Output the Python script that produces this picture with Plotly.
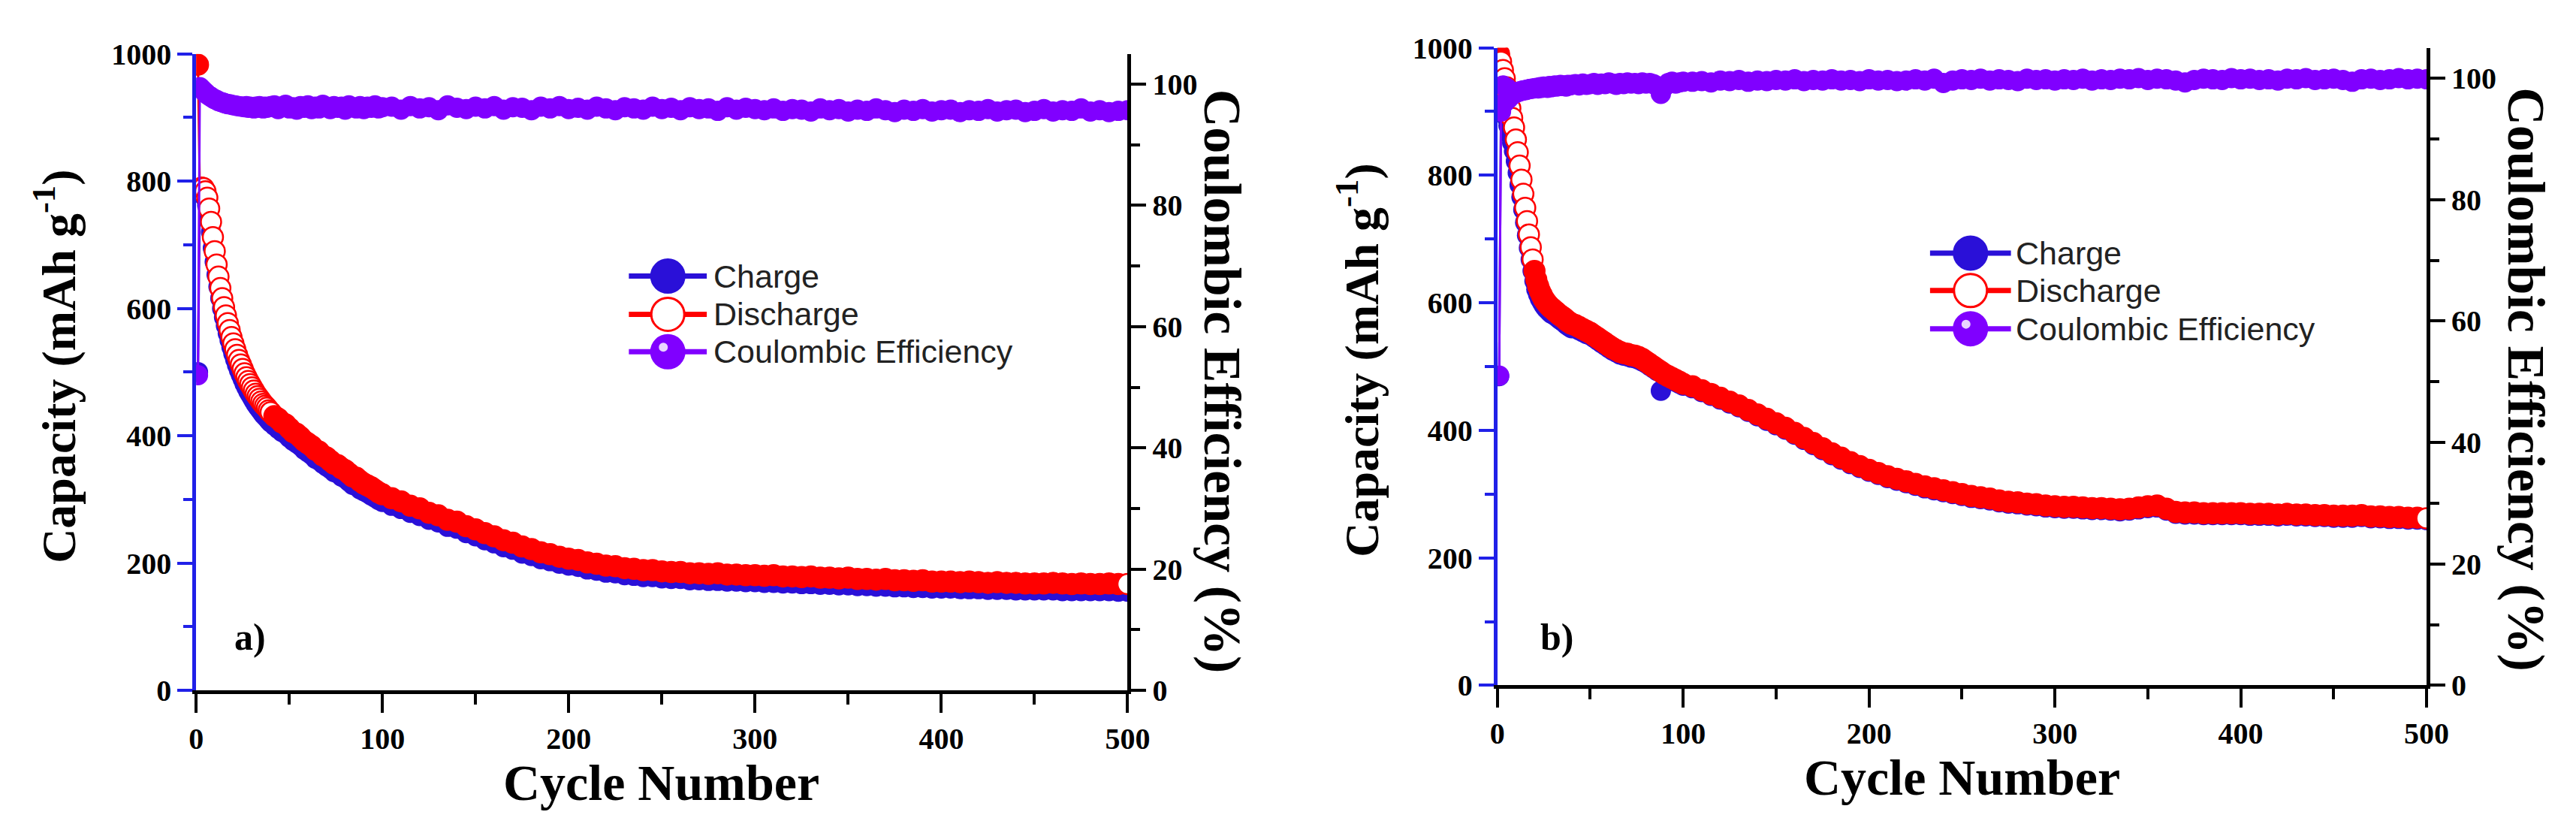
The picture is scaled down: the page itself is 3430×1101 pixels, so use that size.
import plotly.graph_objects as go

W, H = 3430, 1101

# cycle numbers used in both cells (dense at the start where the capacity falls fast)
cycles = list(range(1, 41)) + list(range(42, 101, 2)) + list(range(105, 501, 5))

# ---- a) capacity (mAh/g) and coulombic efficiency (%) ----
dis_a = [983, 786, 790, 789, 784, 774, 757, 736, 712, 690,
         669, 650, 632, 616, 602, 589, 577, 566, 555, 545,
         536, 527, 519, 512, 505, 498, 492, 486, 481, 476,
         471, 466, 462, 458, 454, 450, 447, 444, 440, 437,
         431, 427, 421, 418, 412, 406, 403, 398, 392, 388,
         384, 378, 375, 369, 366, 361, 356, 354, 349, 346,
         341, 336, 334, 329, 325, 322, 319, 315, 311, 308,
         302, 297, 290, 286, 279, 275, 268, 265, 258, 253,
         247, 242, 236, 232, 226, 222, 217, 214, 210, 207,
         205, 201, 199, 196, 195, 192, 191, 189, 189, 187,
         186, 186, 184, 184, 183, 184, 182, 182, 181, 181,
         180, 181, 179, 179, 178, 179, 177, 177, 176, 177,
         175, 175, 174, 175, 173, 173, 172, 173, 171, 171,
         171, 170, 171, 170, 169, 170, 169, 169, 168, 168,
         168, 169, 168, 167, 168, 167, 167, 168, 167, 167]
chg_a = [500, 781, 784, 781, 774, 762, 743, 720, 695, 673,
         653, 634, 616, 600, 586, 573, 561, 550, 539, 529,
         520, 511, 503, 496, 489, 482, 476, 470, 465, 460,
         455, 450, 446, 442, 438, 434, 431, 428, 424, 421,
         416, 411, 406, 403, 397, 392, 388, 384, 378, 374,
         370, 364, 361, 356, 352, 348, 343, 341, 336, 333,
         328, 323, 321, 316, 313, 310, 306, 303, 299, 296,
         290, 285, 279, 274, 268, 264, 257, 254, 247, 242,
         236, 231, 225, 221, 215, 211, 206, 203, 199, 196,
         194, 190, 188, 185, 184, 181, 180, 178, 178, 176,
         175, 175, 173, 173, 172, 172, 171, 171, 170, 170,
         169, 169, 168, 168, 167, 167, 166, 166, 165, 165,
         164, 164, 163, 163, 162, 162, 161, 161, 160, 160,
         160, 159, 159, 159, 158, 158, 158, 157, 157, 157,
         157, 157, 156, 156, 156, 156, 156, 156, 155, 155]
ce_a = [52.0, 99.5, 99.2, 98.9, 98.6, 98.3, 98.1, 97.9, 97.7, 97.5,
        97.4, 97.2, 97.1, 97.0, 96.9, 96.8, 96.7, 96.7, 96.6, 96.5,
        96.5, 96.4, 96.4, 96.3, 96.3, 96.2, 96.4, 96.1, 96.3, 96.2,
        96.0, 96.3, 96.1, 96.4, 96.2, 96.0, 96.3, 96.1, 96.2, 96.4,
        96.5, 95.9, 96.3, 96.6, 96.0, 96.2, 95.8, 96.4, 96.1, 96.5,
        95.9, 96.3, 96.0, 96.6, 96.2, 95.9, 96.4, 96.1, 96.3, 95.8,
        96.5, 96.2, 96.0, 96.4, 95.9, 96.3, 96.1, 96.5, 96.0, 96.2,
        96.3, 95.8, 96.4, 96.0, 96.2, 95.7, 96.5, 96.1, 95.9, 96.3,
        96.0, 96.4, 95.8, 96.2, 96.1, 95.7, 96.3, 96.0, 96.4, 95.9,
        96.1, 95.8, 96.3, 96.0, 95.7, 96.2, 96.0, 95.8, 96.3, 95.9,
        96.1, 95.7, 96.2, 95.9, 96.0, 95.6, 96.2, 95.8, 96.1, 95.9,
        95.7, 96.0, 95.6, 95.9, 95.8, 95.5, 96.0, 95.7, 95.9, 95.5,
        95.8, 95.6, 96.0, 95.7, 95.4, 95.8, 95.6, 95.9, 95.5, 95.7,
        95.8, 95.4, 95.7, 95.6, 95.9, 95.5, 95.7, 95.8, 95.4, 95.6,
        95.9, 95.5, 95.7, 95.6, 96.0, 95.5, 95.7, 95.4, 95.6, 95.7]

# ---- b) ----
dis_b = [990, 978, 965, 952, 938, 922, 905, 890, 875, 856,
         836, 815, 793, 771, 749, 728, 707, 687, 668, 650,
         636, 626, 618, 612, 606, 602, 598, 595, 592, 590,
         587, 585, 582, 580, 578, 576, 573, 571, 569, 567,
         565, 562, 559, 556, 553, 549, 545, 541, 537, 533,
         529, 526, 523, 521, 520, 518, 517, 515, 512, 508,
         504, 500, 496, 492, 488, 485, 482, 479, 476, 473,
         469, 463, 457, 451, 445, 439, 432, 425, 418, 411,
         404, 396, 388, 380, 372, 364, 357, 350, 344, 338,
         333, 328, 324, 320, 316, 312, 309, 306, 303, 300,
         297, 295, 293, 290, 288, 287, 285, 284, 282, 281,
         280, 280, 279, 278, 278, 277, 276, 277, 279, 281,
         282, 277, 272, 271, 271, 270, 270, 270, 270, 270,
         269, 269, 269, 268, 269, 268, 268, 267, 267, 266,
         266, 266, 267, 265, 265, 264, 264, 263, 263, 262]
chg_b = [485, 910, 905, 899, 891, 878, 863, 851, 838, 822,
         804, 785, 766, 746, 726, 706, 686, 668, 650, 634,
         621, 613, 606, 601, 596, 592, 589, 586, 583, 582,
         580, 578, 575, 573, 571, 569, 566, 564, 562, 560,
         560, 557, 554, 551, 549, 545, 541, 537, 533, 529,
         525, 522, 519, 517, 516, 514, 513, 511, 508, 505,
         501, 497, 493, 462, 484, 482, 479, 476, 473, 470,
         466, 460, 454, 448, 442, 436, 429, 422, 415, 408,
         401, 393, 385, 377, 369, 361, 354, 347, 341, 335,
         330, 325, 321, 317, 313, 309, 306, 303, 300, 297,
         294, 292, 290, 287, 285, 284, 282, 281, 279, 278,
         277, 277, 276, 275, 275, 274, 273, 274, 276, 278,
         279, 274, 269, 268, 268, 267, 267, 267, 267, 267,
         266, 266, 266, 265, 266, 265, 265, 264, 264, 263,
         263, 263, 264, 262, 262, 261, 261, 260, 260, 259]
ce_b = [51.0, 94.5, 98.8, 96.0, 98.4, 96.6, 97.9, 97.2, 97.5, 97.6,
        97.7, 97.8, 97.9, 98.0, 98.0, 98.1, 98.2, 98.2, 98.3, 98.3,
        98.4, 98.3, 98.5, 98.4, 98.6, 98.5, 98.4, 98.7, 98.5, 98.6,
        98.8, 98.6, 98.7, 98.9, 98.7, 98.8, 98.6, 98.9, 98.8, 98.9,
        99.0, 98.8, 99.1, 98.9, 99.0, 99.2, 98.9, 99.1, 99.0, 99.3,
        99.1, 98.9, 99.2, 99.0, 99.3, 99.1, 99.2, 99.0, 99.3, 99.1,
        99.2, 99.0, 98.7, 97.4, 98.6, 99.2, 99.4, 99.1, 99.3, 99.4,
        99.4, 99.5, 99.3, 99.6, 99.5, 99.7, 99.4, 99.6, 99.5, 99.7,
        99.6, 99.8, 99.5, 99.7, 99.6, 99.8, 99.6, 99.7, 99.5, 99.8,
        99.6, 99.7, 99.5, 99.6, 99.8, 99.6, 99.9, 99.2, 99.6, 99.8,
        99.7, 99.9, 99.6, 99.8, 99.7, 99.5, 99.9, 99.7, 99.8, 99.6,
        99.8, 99.7, 99.9, 99.6, 99.8, 99.7, 99.9, 99.8, 100.0, 99.7,
        99.9, 99.8, 99.6, 99.3, 99.7, 99.9, 99.8, 99.7, 100.0, 99.8,
        99.9, 99.7, 99.8, 99.6, 99.9, 99.8, 100.0, 99.7, 99.8, 99.9,
        99.7, 99.4, 99.8, 99.9, 99.7, 99.8, 100.0, 99.8, 99.9, 99.8]

legend_names = ["Charge", "Discharge", "Coulombic Efficiency"]

BLUE = "#2a10d8"
AXBLUE = "#2020e8"
RED = "#ff0000"
PURPLE = "#8000ff"
SERIF = "Liberation Serif"
SANS = "Liberation Sans"
MS = 27


def px(x):
    return x / W


def py(y):
    return 1 - y / H


fig = go.Figure()


def add_cell(xa, ya, ya2, dis, chg, ce, white_until):
    fig.add_trace(go.Scatter(x=cycles, y=chg, mode="lines+markers", xaxis=xa, yaxis=ya,
                             line=dict(color=BLUE, width=3),
                             marker=dict(size=MS, color=BLUE, line=dict(width=0))))
    # open symbols where the rings are still apart, solid band afterwards
    fills = ["white" if (1 < c <= white_until or c == cycles[-1]) else RED for c in cycles]
    fig.add_trace(go.Scatter(x=cycles, y=dis, mode="lines+markers", xaxis=xa, yaxis=ya,
                             line=dict(color=RED, width=3),
                             marker=dict(size=MS, color=fills, line=dict(color=RED, width=2.5))))
    fig.add_trace(go.Scatter(x=cycles, y=ce, mode="lines+markers", xaxis=xa, yaxis=ya2,
                             line=dict(color=PURPLE, width=3),
                             marker=dict(size=MS, color=PURPLE, line=dict(width=0))))


add_cell("x", "y", "y2", dis_a, chg_a, ce_a, 40)
add_cell("x2", "y3", "y4", dis_b, chg_b, ce_b, 19)

tickfont = dict(family=SERIF, size=40, color="black", weight="bold")


def xbottom(dom, anchor):
    return dict(domain=dom, anchor=anchor, range=[0, 500], tick0=0, dtick=100,
                ticks="outside", ticklen=25, tickwidth=4, tickcolor="black",
                showline=True, linewidth=5, linecolor="black",
                showgrid=False, zeroline=False, tickfont=tickfont,
                minor=dict(dtick=50, ticks="outside", ticklen=14, tickwidth=4,
                           tickcolor="black", showgrid=False))


def xtop(over, anchor):
    return dict(overlaying=over, anchor=anchor, side="top", range=[0, 500], tick0=0, dtick=100,
                ticks="inside", ticklen=22, tickwidth=4, tickcolor="black",
                showticklabels=False, showline=True, linewidth=5, linecolor="black",
                showgrid=False, zeroline=False,
                minor=dict(dtick=50, ticks="inside", ticklen=13, tickwidth=4,
                           tickcolor="black", showgrid=False))


def yleft(dom, anchor):
    return dict(domain=dom, anchor=anchor, range=[0, 1000], tick0=0, dtick=200,
                ticks="outside", ticklen=20, tickwidth=4, tickcolor=AXBLUE,
                showline=True, linewidth=5, linecolor=AXBLUE,
                showgrid=False, zeroline=False, tickfont=tickfont,
                minor=dict(dtick=100, ticks="outside", ticklen=12, tickwidth=4,
                           tickcolor=AXBLUE, showgrid=False))


def yright(over, anchor):
    return dict(overlaying=over, anchor=anchor, side="right", range=[0, 105], tick0=0, dtick=20,
                ticks="outside", ticklen=20, tickwidth=4, tickcolor="black",
                showline=True, linewidth=5, linecolor="black",
                showgrid=False, zeroline=False, tickfont=tickfont,
                minor=dict(dtick=10, ticks="outside", ticklen=12, tickwidth=4,
                           tickcolor="black", showgrid=False))


dom_xa = [px(246), px(1501)]
dom_ya = [py(927), py(43.5)]
dom_xb = [px(1999), px(3251)]
dom_yb = [py(920), py(35)]

annotations = []
shapes = []


def title(text, x, y, angle, size):
    annotations.append(dict(text=text, x=px(x), y=py(y), xref="paper", yref="paper",
                            showarrow=False, textangle=angle, xanchor="center", yanchor="middle",
                            font=dict(family=SERIF, size=size, color="black", weight="bold")))


for lx, rx, cx, cap_y, ce_y, num_y, tag, tag_x in [
        (56, 1628, 873, 477, 498, 1055, "a)", 319),
        (1812, 3385, 2625, 469, 495, 1048, "b)", 2079)]:
    title("Capacity (mAh g<sup>-1</sup>)", lx, cap_y, -90, 64)
    title("Coulombic Efficiency (%)", rx, ce_y, 90, 70)
    title("Cycle Number", cx, num_y, 0, 68)
    title(tag, tag_x, 853, 0, 50)


def legend(x0, x1, xt, rows):
    xm = (x0 + x1) / 2
    styles = [(BLUE, BLUE, BLUE), (RED, "white", RED), (PURPLE, PURPLE, PURPLE)]
    for name, yrow, (lc, fc, oc) in zip(legend_names, rows, styles):
        shapes.append(dict(type="line", xref="paper", yref="paper", x0=px(x0), x1=px(x1),
                           y0=py(yrow), y1=py(yrow), line=dict(color=lc, width=7)))
        shapes.append(dict(type="circle", xref="paper", yref="paper", xsizemode="pixel",
                           ysizemode="pixel", xanchor=px(xm), yanchor=py(yrow),
                           x0=-22, x1=22, y0=-22, y1=22, fillcolor=fc,
                           line=dict(color=oc, width=3)))
        annotations.append(dict(text=name, x=px(xt), y=py(yrow), xref="paper", yref="paper",
                                showarrow=False, xanchor="left", yanchor="middle",
                                font=dict(family=SANS, size=43, color="#222222")))
    # highlight on the sphere symbol
    shapes.append(dict(type="circle", xref="paper", yref="paper", xsizemode="pixel",
                       ysizemode="pixel", xanchor=px(xm), yanchor=py(rows[2]),
                       x0=-12, x1=0, y0=0, y1=12, fillcolor="#e9d4ff", line=dict(width=0)))


legend(829, 934, 941, [352, 405, 457])
legend(2582, 2691, 2695, [320, 372, 425])

fig.update_layout(
    width=W, height=H, autosize=False,
    margin=dict(l=0, r=0, t=0, b=0),
    paper_bgcolor="white", plot_bgcolor="white",
    showlegend=False,
    xaxis=xbottom(dom_xa, "y"),
    xaxis2=xbottom(dom_xb, "y3"),
    xaxis3=xtop("x", "y"),
    xaxis4=xtop("x2", "y3"),
    yaxis=yleft(dom_ya, "x"),
    yaxis2=yright("y", "x"),
    yaxis3=yleft(dom_yb, "x2"),
    yaxis4=yright("y3", "x2"),
    annotations=annotations,
    shapes=shapes,
)

fig.write_html("out.html")
